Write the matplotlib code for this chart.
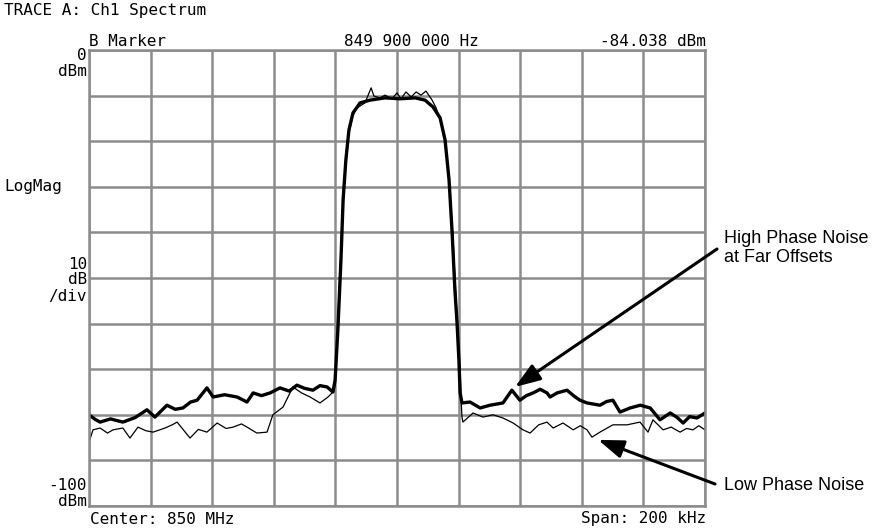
# Spectre du canal : bruit de phase fort vs faible

import matplotlib.pyplot as plt

# offset from center (kHz) and level (dBm) of each trace
freq_high = [-100, -98.0, -96.4, -93.0, -89.0, -85.0, -81.2, -78.6, -74.7, -72.0,
             -69.5, -67.0, -64.9, -61.7, -59.7, -56.0, -51.9, -48.7, -46.7, -44.0,
             -41.2, -38.0, -35.0, -32.5, -30.0, -27.3, -25.0, -22.7, -20.8, -20.1,
             -19.2, -18.2, -17.5, -16.6, -15.6, -14.3, -12.0, -8.8, -3.9, 1.0,
             5.9, 9.1, 11.7, 14.0, 15.6, 16.9, 17.9, 18.8, 19.5, 20.1,
             20.5, 21.1, 23.7, 27.0, 30.2, 34.4, 37.3, 39.9, 42.0, 44.2,
             46.5, 48.7, 49.7, 52.0, 55.2, 57.5, 59.4, 61.7, 65.9, 68.0,
             70.1, 72.4, 75.7, 79.0, 82.2, 85.4, 88.7, 91.0, 92.9, 95.0,
             97.4, 100]
level_high = [-80.0, -81.0, -81.6, -80.9, -81.6, -80.6, -78.9, -80.5, -77.9, -78.8,
              -78.5, -77.2, -76.8, -74.1, -76.1, -75.6, -76.1, -77.2, -75.2, -75.8,
              -75.2, -74.1, -74.8, -73.5, -74.2, -74.6, -73.6, -73.9, -75.0, -72.4,
              -61.4, -46.1, -32.9, -24.1, -17.5, -13.8, -11.6, -11.0, -10.5, -10.7,
              -10.5, -11.0, -12.5, -14.9, -19.7, -28.5, -40.1, -52.6, -59.9, -68.0,
              -75.2, -77.4, -77.2, -78.5, -77.9, -77.4, -74.6, -76.8, -75.8, -75.2,
              -74.4, -75.2, -76.1, -75.2, -74.6, -75.9, -76.8, -77.4, -77.9, -77.1,
              -76.8, -79.4, -78.5, -77.9, -78.5, -81.1, -79.6, -80.6, -81.8, -80.4,
              -80.7, -79.6]

freq_low = [-100, -98.7, -96.4, -94.0, -92.2, -89.0, -86.7, -84.1, -81.5, -79.2,
            -75.3, -73.0, -71.4, -67.2, -64.5, -61.7, -58.4, -55.5, -53.2, -50.5,
            -48.7, -45.5, -42.2, -40.3, -37.0, -33.8, -31.0, -28.2, -25.0, -22.4,
            -20.8, -20.1, -19.5, -18.5, -17.5, -16.6, -15.6, -14.3, -13.0, -10.4,
            -8.4, -7.5, -5.5, -3.9, -1.6, 0.0, 1.3, 2.9, 4.6, 6.2,
            7.8, 9.4, 11.4, 12.7, 14.3, 15.9, 17.2, 18.2, 19.2, 19.8,
            20.5, 20.8, 21.1, 21.4, 24.7, 27.9, 31.2, 34.4, 37.7, 40.9,
            43.2, 46.0, 48.7, 50.7, 53.9, 57.2, 59.5, 61.7, 63.3, 65.9,
            70.1, 74.7, 78.9, 81.5, 83.1, 86.4, 89.0, 91.9, 94.0, 96.1,
            98.0, 100]
level_low = [-86.0, -83.3, -82.9, -84.0, -83.3, -82.9, -85.1, -82.7, -83.5, -83.8,
             -82.9, -82.2, -81.6, -85.1, -83.2, -83.8, -81.8, -83.0, -82.7, -82.0,
             -82.7, -84.0, -83.8, -80.0, -78.3, -73.9, -75.2, -76.1, -77.4, -76.1,
             -75.0, -73.5, -63.6, -48.2, -34.0, -25.2, -18.2, -14.3, -12.7, -11.6,
             -8.3, -10.1, -10.5, -9.9, -10.7, -9.4, -10.7, -9.2, -10.3, -9.2,
             -9.9, -9.0, -11.0, -12.7, -15.8, -20.8, -30.7, -41.7, -54.8, -62.5,
             -70.2, -76.8, -80.5, -81.6, -79.6, -80.5, -80.0, -80.7, -81.8, -83.3,
             -84.0, -82.2, -81.6, -82.9, -81.8, -83.3, -82.4, -83.3, -84.9, -83.8,
             -82.2, -82.2, -81.6, -83.8, -81.1, -83.3, -82.7, -83.8, -83.0, -83.3,
             -82.4, -83.3]

x_ticks = list(range(-100, 101, 20))
y_ticks = list(range(-100, 1, 10))

mono = "DejaVu Sans Mono"
narrow = ["Liberation Sans Narrow", "Liberation Sans", "DejaVu Sans"]

fig = plt.figure(figsize=(8.9, 5.31), dpi=100)
ax = fig.add_axes([89/890, 1 - 506/531, 616/890, 456/531])

ax.plot(freq_low, level_low, color="black", lw=0.9)
ax.plot(freq_high, level_high, color="black", lw=2.4)

ax.set_xlim(-100, 100)
ax.set_ylim(-100, 0)
ax.set_xticks(x_ticks)
ax.set_yticks(y_ticks)
ax.grid(True, color="#8c8c8c", lw=1.8)
ax.tick_params(length=0, labelbottom=False, labelleft=False)
for s in ax.spines.values():
    s.set_color("#8c8c8c")
    s.set_linewidth(1.8)


def px(x, y):
    """pixels -> fraction de figure"""
    return x / 890, 1 - y / 531


def mtext(x, y, txt, ha="left"):
    fig.text(*px(x, y), txt, ha=ha, va="center", family=mono, fontsize=11.5)


mtext(4, 11, "TRACE A: Ch1 Spectrum")
mtext(89, 42, "B Marker")
mtext(411, 42, "849 900 000 Hz", ha="center")
mtext(706, 42, "-84.038 dBm", ha="right")
mtext(87, 56, "0", ha="right")
mtext(87, 71, "dBm", ha="right")
mtext(4, 187, "LogMag")
mtext(87, 264, "10", ha="right")
mtext(87, 280, "dB", ha="right")
mtext(87, 296, "/div", ha="right")
mtext(87, 485, "-100", ha="right")
mtext(87, 501, "dBm", ha="right")
mtext(90, 519, "Center: 850 MHz")
mtext(706, 519, "Span: 200 kHz", ha="right")

arrow = dict(arrowstyle="-|>,head_length=0.7,head_width=0.25", color="black",
             lw=2.2, mutation_scale=22, shrinkA=0, shrinkB=0)
ax.annotate("", xy=(38.3, -73.9), xycoords="data",
            xytext=px(717, 249), textcoords="figure fraction", arrowprops=arrow,
            annotation_clip=False)
ax.annotate("", xy=(65.3, -85.5), xycoords="data",
            xytext=px(715, 484), textcoords="figure fraction", arrowprops=arrow,
            annotation_clip=False)

fig.text(*px(724, 248), "High Phase Noise\nat Far Offsets", ha="left", va="center",
         family=narrow, fontsize=13, linespacing=1.2)
fig.text(*px(724, 486), "Low Phase Noise", ha="left", va="center",
         family=narrow, fontsize=13)

plt.savefig("out.png", dpi=100)
